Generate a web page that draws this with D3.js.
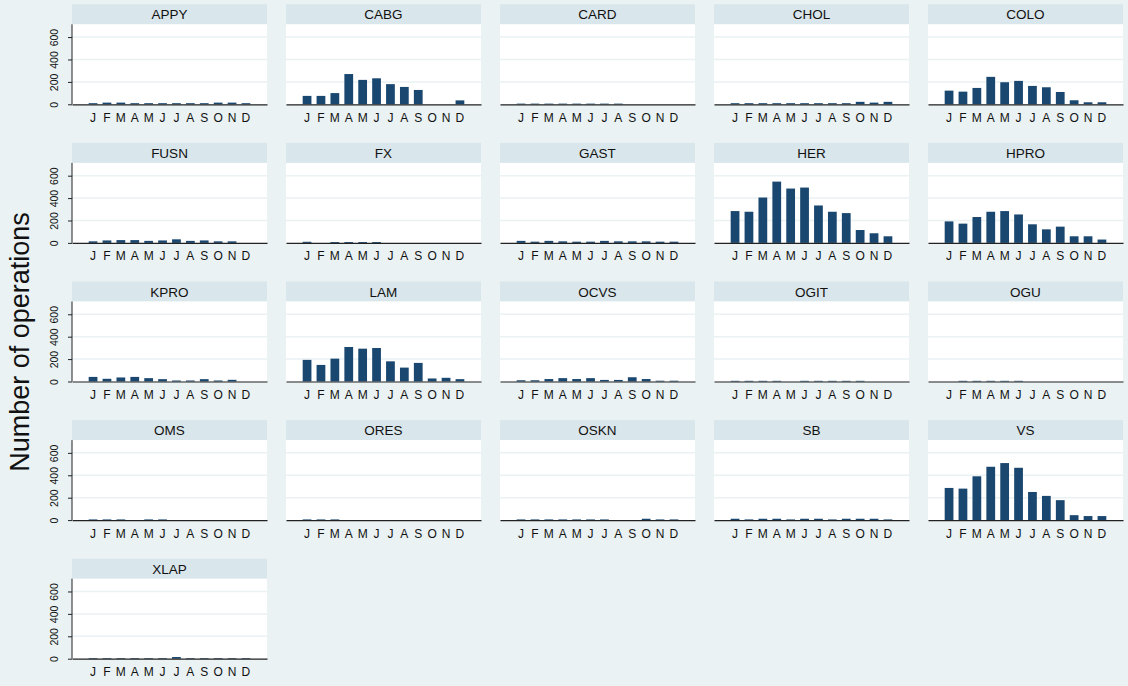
<!DOCTYPE html>
<html>
<head>
<meta charset="utf-8">
<script src="https://cdn.jsdelivr.net/npm/d3@7"></script>
<style>
html,body{margin:0;padding:0;background:#eaf2f3;}
svg{display:block;font-family:"Liberation Sans",Arial,sans-serif;}
</style>
</head>
<body>
<svg id="chart" width="1128" height="686"></svg>
<script>
const months = ["J","F","M","A","M","J","J","A","S","O","N","D"];
const procedures = ["APPY","CABG","CARD","CHOL","COLO","FUSN","FX","GAST","HER","HPRO","KPRO","LAM","OCVS","OGIT","OGU","OMS","ORES","OSKN","SB","VS","XLAP"];
const APPY = [10,15,15,10,10,10,10,10,10,15,15,10];
const CABG = [75,75,100,270,218,232,180,155,128,0,0,35];
const CARD = [6,6,6,6,6,6,6,6,0,0,0,0];
const CHOL = [10,10,10,10,10,10,10,10,10,22,15,22];
const COLO = [122,113,146,245,197,209,164,152,110,36,18,18];
const FUSN = [14,22,25,25,18,22,32,18,22,14,14,0];
const FX = [10,0,8,8,8,8,0,0,0,0,0,0];
const GAST = [18,11,18,14,11,11,18,14,14,14,11,11];
const HER = [284,278,405,547,485,494,334,278,266,115,86,59];
const HPRO = [192,172,231,278,284,254,166,121,145,59,59,30];
const KPRO = [41,24,36,41,30,21,9,9,21,9,15,0];
const LAM = [193,148,204,308,293,299,180,124,166,27,33,21];
const OCVS = [11,11,22,30,22,30,14,14,38,22,7,7];
const OGIT = [6,6,6,6,0,6,6,6,6,6,0,0];
const OGU = [0,6,6,6,6,6,0,0,0,0,0,0];
const OMS = [6,6,6,0,6,6,0,0,0,0,0,0];
const ORES = [6,6,6,0,0,0,0,0,0,0,0,0];
const OSKN = [6,6,6,6,6,6,6,0,0,12,6,6];
const SB = [12,6,12,12,6,12,12,6,12,12,12,6];
const VS = [287,281,391,476,509,467,251,216,178,44,36,36];
const XLAP = [6,6,6,6,6,6,15,6,6,6,6,6];
const seriesValues = [APPY,CABG,CARD,CHOL,COLO,FUSN,FX,GAST,HER,HPRO,KPRO,LAM,OCVS,OGIT,OGU,OMS,ORES,OSKN,SB,VS,XLAP];
const yTicks = [0,200,400,600];
const yTitle = "Number of operations";

const svg = d3.select("#chart");
const ncol = 5;
const panelW = 195, colStep = 214, left0 = 72;
const base0 = 104.3, rowStep = 138.6, plotH = 80, bandH = 20;

const x = d3.scaleBand().domain(d3.range(12)).range([0, panelW]).paddingInner(0.37).paddingOuter(1.2);
const y = d3.scaleLinear().domain([0, 714]).range([plotH, 0]);

procedures.forEach((name, i) => {
  const c = i % ncol, r = Math.floor(i / ncol);
  const px = left0 + c * colStep;
  const baseY = base0 + r * rowStep;
  const g = svg.append("g").attr("transform", `translate(${px},${baseY - plotH})`);
  g.append("rect").attr("x", 0).attr("y", -bandH).attr("width", panelW).attr("height", bandH).attr("fill", "#d9e6eb");
  g.append("text").attr("x", panelW / 2).attr("y", -bandH / 2 + 5).attr("text-anchor", "middle")
    .attr("font-size", 13.5).attr("fill", "#111").text(name);
  g.append("rect").attr("x", 0).attr("y", 0).attr("width", panelW).attr("height", plotH).attr("fill", "#ffffff");
  g.selectAll("line.grid").data(yTicks.slice(1)).join("line").attr("class", "grid")
    .attr("x1", 0).attr("x2", panelW).attr("y1", d => y(d)).attr("y2", d => y(d))
    .attr("stroke", "#eaf2f3").attr("stroke-width", 1.5);
  g.selectAll("rect.bar").data(seriesValues[i]).join("rect").attr("class", "bar")
    .attr("x", (d, j) => x(j)).attr("width", x.bandwidth())
    .attr("y", d => y(d)).attr("height", d => plotH - y(d))
    .attr("fill", "#1a476f");
  const xa = g.append("g").attr("transform", `translate(0,${plotH})`)
    .call(d3.axisBottom(x).tickSize(0).tickPadding(9).tickFormat(j => months[j]));
  xa.select(".domain").attr("stroke", "#222").attr("stroke-width", 1.2);
  xa.selectAll("text").attr("font-size", 12).attr("fill", "#111").attr("font-family", "Liberation Sans, Arial, sans-serif");
  if (c === 0) {
    const ya = g.append("g").call(d3.axisLeft(y).tickValues(yTicks).tickSize(4).tickPadding(3));
    ya.select(".domain").attr("stroke", "#222").attr("d", `M0,0V${plotH}`);
    ya.selectAll(".tick line").attr("stroke", "#222");
    ya.selectAll("text").attr("font-size", 10.5).attr("fill", "#111")
      .attr("font-family", "Liberation Sans, Arial, sans-serif")
      .attr("transform", "rotate(-90)").attr("x", 0).attr("y", -14).attr("dy", "0").attr("text-anchor", "middle");
  }
});

svg.append("text").attr("transform", "translate(29,342) rotate(-90)").attr("text-anchor", "middle")
  .attr("font-size", 27).attr("fill", "#111").text(yTitle);
</script>
</body>
</html>
